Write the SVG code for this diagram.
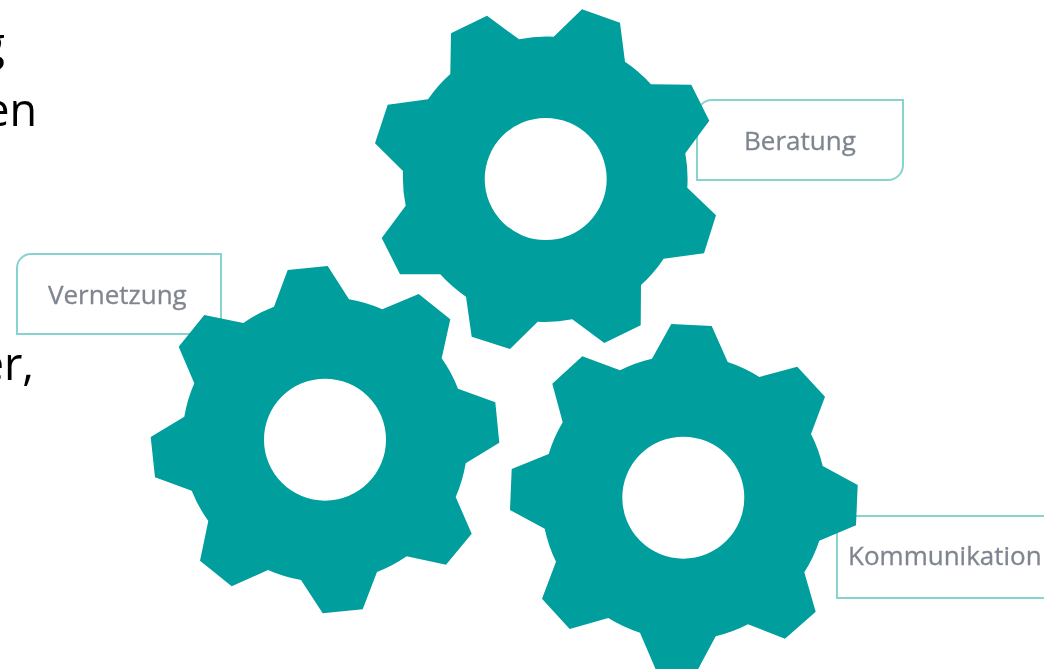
<svg xmlns="http://www.w3.org/2000/svg" width="1044" height="669" viewBox="0 0 1044 669">
<style>
.gear{fill:#009e9c;fill-rule:evenodd;filter:url(#soft)}
.box{fill:#fff;stroke:#86d3d0;stroke-width:2;filter:url(#soft)}
.label{font-family:"Open Sans","Noto Sans",sans-serif;font-size:26px;fill:#7f858f;stroke:#7f858f;stroke-width:.3;filter:url(#blur)}
.clip{font-family:"Open Sans","Noto Sans",sans-serif;font-size:45px;fill:#050505;text-anchor:end;filter:url(#soft)}
</style>
<defs>
<filter id="soft" x="-5%" y="-5%" width="110%" height="110%"><feGaussianBlur stdDeviation="0.4"/></filter>
<filter id="blur" x="-5%" y="-10%" width="110%" height="120%"><feGaussianBlur stdDeviation="0.6"/></filter>
</defs>
<rect width="1044" height="669" fill="#fff"/>
<g id="body-text">
<text class="clip" x="5" y="60">g</text>
<text class="clip" x="37" y="126">en</text>
<text class="clip" x="34" y="380">er,</text>
</g>
<g id="box-vernetzung">
<path class="box" d="M31 254H221V334H17V268A14 14 0 0 1 31 254Z"/>
<text class="label" x="48" y="304">Vernetzung</text>
</g>
<g id="box-beratung">
<path class="box" d="M712 100H903V165A15 15 0 0 1 888 180H697V115A15 15 0 0 1 712 100Z"/>
<text class="label" x="744" y="150">Beratung</text>
</g>
<g id="box-kommunikation">
<path class="box" d="M837 516H1050V598H837Z"/>
<text class="label" x="848" y="565">Kommunikation</text>
</g>
<g id="gear-beratung">
<path class="gear" d="M451 33.3L487 15.7L519 39.3A142 142 0 0 1 553.7 36.7L582 9.3L620 22.7L625 61.7A142 142 0 0 1 651 84.3L691.3 84.7L709.3 120.7L685.3 153.3A142 142 0 0 1 687.3 187.7L716 215.3L704 253.3L663.7 258.7A142 142 0 0 1 641 285L640.7 325.3L604.3 343L572.3 319.3A142 142 0 0 1 537.7 321.7L510 349L471.7 336.7L466 296.7A142 142 0 0 1 440.3 274.3L400 274.3L381.7 238L405.7 205.7A142 142 0 0 1 403 171L375 143.3L387.7 104.7L428 99.3A142 142 0 0 1 450.3 74ZM606.7 179A61 61 0 1 0 484.7 179A61 61 0 1 0 606.7 179Z"/>
</g>
<g id="gear-vernetzung">
<path class="gear" d="M287.7 270L327.7 266L349 299.3A142 142 0 0 1 382.3 309.3L418.7 294L450.3 319.3L441.7 358.3A142 142 0 0 1 458 388.7L495.3 402.3L499.3 442.7L465.7 463.3A142 142 0 0 1 455.7 497L471.7 533.7L446 564.7L406.7 556.3A142 142 0 0 1 377 572L362.7 609.3L322.7 613.3L301 580A142 142 0 0 1 268 570L231.7 586.3L200 560.7L208.3 521A142 142 0 0 1 191.7 490.7L155 477.3L150.7 437L184.3 416.7A142 142 0 0 1 194.3 383.3L178.7 346.7L204.3 315L243.3 323A142 142 0 0 1 274 306.7ZM386 439.7A61 61 0 1 0 264 439.7A61 61 0 1 0 386 439.7Z"/>
</g>
<g id="gear-kommunikation">
<path class="gear" d="M671.3 324L711.7 326L727.7 362A142 142 0 0 1 759.3 377L797.3 366.7L825 396.7L811 434A142 142 0 0 1 822.7 466L857.7 485L856 525.3L819.3 540.7A142 142 0 0 1 804.3 572.3L815.7 611.7L785 638.7L748 624.3A142 142 0 0 1 715.7 636.3L696.7 671.7L656.7 671.7L640 632.7A142 142 0 0 1 608.3 618L569.7 629L542 598.7L556 561.7A142 142 0 0 1 544.7 528.7L510 510L511.7 469L548.7 454A142 142 0 0 1 562.7 422.3L552.3 383.7L582.3 356.3L620 370.3A142 142 0 0 1 652 358.7ZM744.3 497.7A61 61 0 1 0 622.3 497.7A61 61 0 1 0 744.3 497.7Z"/>
</g>
</svg>
